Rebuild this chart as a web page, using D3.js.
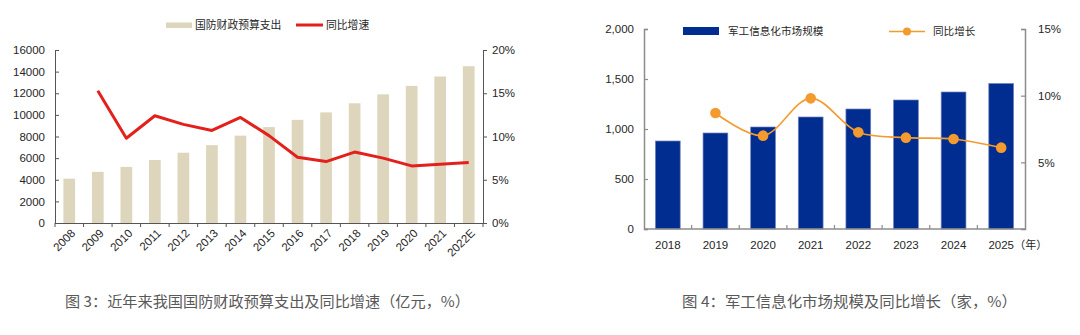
<!DOCTYPE html>
<html><head><meta charset="utf-8">
<script src="https://cdn.jsdelivr.net/npm/d3@7/dist/d3.min.js"></script>
<style>
html,body{margin:0;padding:0;background:#fff;}
svg{display:block;}
text{font-family:"Liberation Sans",Arial,sans-serif;}
.cjk{font-family:"Noto Sans CJK SC","Noto Sans",sans-serif;}
</style></head>
<body>
<svg id="c" width="1080" height="335"></svg>
<script>
// ---- Chart 1 data ----
const years1 = ["2008","2009","2010","2011","2012","2013","2014","2015","2016","2017","2018","2019","2020","2021","2022E"];
const budget1 = [4100,4730,5190,5830,6500,7200,8080,8870,9540,10230,11070,11900,12680,13550,14500];
const growth1 = [null,15.3,9.8,12.4,11.4,10.7,12.2,10.1,7.6,7.1,8.2,7.5,6.6,6.8,7.0];
const ticksL1 = [0,2000,4000,6000,8000,10000,12000,14000,16000];
const ticksR1 = [0,5,10,15,20];
const legend1 = ["国防财政预算支出","同比增速"];
const caption1 = "图 3：近年来我国国防财政预算支出及同比增速（亿元，%）";

// ---- Chart 2 data ----
const years2 = ["2018","2019","2020","2021","2022","2023","2024","2025"];
const market2 = [880,960,1020,1120,1200,1290,1370,1455];
const growth2 = [null,8.7,7.0,9.8,7.25,6.85,6.75,6.1];
const ticksL2 = [0,500,1000,1500,2000];
const ticksR2 = [5,10,15];
const legend2 = ["军工信息化市场规模","同比增长"];
const caption2 = "图 4：军工信息化市场规模及同比增长（家，%）";
const yearUnit2 = "（年）";

const svg = d3.select("#c");
svg.append("rect").attr("width",1080).attr("height",335).attr("fill","#fff");

// ================= Chart 1 =================
{
  const g = svg.append("g");
  const x = d3.scaleBand().domain(years1).range([55,483]).paddingInner(0.59).paddingOuter(0.295);
  const yL = d3.scaleLinear().domain([0,16000]).range([223,50]);
  const yR = d3.scaleLinear().domain([0,20]).range([223,50]);
  const axisCol = "#555";
  const txtCol = "#262626";

  g.selectAll("rect.bar").data(years1).join("rect")
    .attr("x", d=>x(d)).attr("width", x.bandwidth())
    .attr("y", (d,i)=>yL(budget1[i])).attr("height",(d,i)=>yL(0)-yL(budget1[i]))
    .attr("fill","#DED5BD");

  const la = g.append("g").attr("transform","translate(55,0)")
    .call(d3.axisLeft(yL).tickValues(ticksL1).tickSize(-4).tickPadding(10).tickFormat(d3.format("d")));
  la.select(".domain").attr("stroke",axisCol);
  la.selectAll(".tick line").attr("stroke",axisCol);
  la.selectAll("text").attr("fill",txtCol).attr("font-size",11.5).attr("font-family","Liberation Sans, Arial, sans-serif");

  const ra = g.append("g").attr("transform","translate(483,0)")
    .call(d3.axisRight(yR).tickValues(ticksR1).tickSize(4).tickPadding(5).tickFormat(d=>d+"%"));
  ra.select(".domain").attr("stroke",axisCol);
  ra.selectAll(".tick line").attr("stroke",axisCol);
  ra.selectAll("text").attr("fill",txtCol).attr("font-size",11.5).attr("font-family","Liberation Sans, Arial, sans-serif");

  g.append("line").attr("x1",55).attr("x2",483).attr("y1",223.5).attr("y2",223.5).attr("stroke",axisCol);
  const step = x.step();
  const bounds = years1.map(d=>x(d)+x.bandwidth()/2-step/2).concat([x(years1[years1.length-1])+x.bandwidth()/2+step/2]);
  g.selectAll("line.xt").data(bounds).join("line")
    .attr("x1",d=>d).attr("x2",d=>d).attr("y1",223).attr("y2",227).attr("stroke",axisCol);
  g.selectAll("text.xl").data(years1).join("text")
    .attr("transform",d=>`translate(${x(d)+x.bandwidth()/2+4},${231}) rotate(-45)`)
    .attr("text-anchor","end").attr("dy","0.35em")
    .attr("font-size",11.5).attr("fill",txtCol).text(d=>d);

  const line = d3.line().defined(d=>d[1]!=null).x(d=>x(d[0])+x.bandwidth()/2).y(d=>yR(d[1]));
  g.append("path").datum(years1.map((d,i)=>[d,growth1[i]]))
    .attr("d",line).attr("fill","none").attr("stroke","#E3211C").attr("stroke-width",3).attr("stroke-linejoin","round");

  g.append("rect").attr("x",166).attr("y",22.5).attr("width",26).attr("height",5.5).attr("fill","#DED5BD");
  g.append("text").attr("class","cjk").attr("x",195).attr("y",25).attr("dy","0.35em").attr("font-size",10.8).attr("fill",txtCol).text(legend1[0]);
  g.append("line").attr("x1",296).attr("x2",323).attr("y1",25).attr("y2",25).attr("stroke","#E3211C").attr("stroke-width",3);
  g.append("text").attr("class","cjk").attr("x",326).attr("y",25).attr("dy","0.35em").attr("font-size",10.8).attr("fill",txtCol).text(legend1[1]);

  svg.append("text").attr("class","cjk").attr("x",65).attr("y",302).attr("dy","0.35em")
    .attr("font-size",15).attr("fill","#595959").attr("textLength",405).attr("lengthAdjust","spacingAndGlyphs").text(caption1);
}

// ================= Chart 2 =================
{
  const g = svg.append("g");
  const x = d3.scaleBand().domain(years2).range([644,1025]).paddingInner(0.48).paddingOuter(0.24);
  const yL = d3.scaleLinear().domain([0,2000]).range([229,29]);
  const yR = d3.scaleLinear().domain([0,15]).range([229,29]);
  const axisCol = "#8c8c8c";
  const txtCol = "#262626";

  g.selectAll("rect.bar").data(years2).join("rect")
    .attr("x", d=>x(d)).attr("width", x.bandwidth())
    .attr("y", (d,i)=>yL(market2[i])).attr("height",(d,i)=>yL(0)-yL(market2[i]))
    .attr("fill","#002D8F").attr("stroke","#6f82bd").attr("stroke-width",0.7);

  const la = g.append("g").attr("transform","translate(644,0)")
    .call(d3.axisLeft(yL).tickValues(ticksL2).tickSize(-4).tickPadding(10).tickFormat(d3.format(",")));
  la.select(".domain").attr("stroke",axisCol).attr("stroke-width",1.5);
  la.selectAll(".tick line").attr("stroke",axisCol).attr("stroke-width",1.2);
  la.selectAll("text").attr("fill",txtCol).attr("font-size",11.5).attr("font-family","Liberation Sans, Arial, sans-serif");

  const ra = g.append("g").attr("transform","translate(1025,0)")
    .call(d3.axisRight(yR).tickValues(ticksR2).tickSize(-4).tickPadding(13).tickFormat(d=>d+"%"));
  ra.select(".domain").attr("stroke",axisCol).attr("stroke-width",1.5);
  ra.selectAll(".tick line").attr("stroke",axisCol).attr("stroke-width",1.2);
  ra.selectAll("text").attr("fill",txtCol).attr("font-size",11.5).attr("font-family","Liberation Sans, Arial, sans-serif");

  g.append("line").attr("x1",644).attr("x2",1025).attr("y1",229).attr("y2",229).attr("stroke",axisCol).attr("stroke-width",1.5);
  const step = x.step();
  const bounds = years2.slice(1).map(d=>x(d)+x.bandwidth()/2-step/2);
  g.selectAll("line.xt").data(bounds).join("line")
    .attr("x1",d=>d).attr("x2",d=>d).attr("y1",229).attr("y2",225).attr("stroke",axisCol).attr("stroke-width",1.2);
  g.selectAll("text.xl").data(years2).join("text")
    .attr("x",d=>x(d)+x.bandwidth()/2).attr("y",245).attr("dy","0.35em")
    .attr("text-anchor","middle").attr("font-size",11.5).attr("fill",txtCol).text(d=>d);
  const last = years2[years2.length-1];
  g.append("text").attr("class","cjk").attr("x",x(last)+x.bandwidth()/2+13).attr("y",245).attr("dy","0.35em")
    .attr("font-size",11).attr("fill",txtCol).text(yearUnit2);

  const pts = years2.map((d,i)=>[d,growth2[i]]).filter(d=>d[1]!=null);
  const line = d3.line().x(d=>x(d[0])+x.bandwidth()/2).y(d=>yR(d[1])).curve(d3.curveCatmullRom.alpha(0.5));
  const orange = "#F39B2F";
  g.append("path").datum(pts).attr("d",line).attr("fill","none").attr("stroke",orange).attr("stroke-width",1.6);
  g.selectAll("circle.pt").data(pts).join("circle")
    .attr("cx",d=>x(d[0])+x.bandwidth()/2).attr("cy",d=>yR(d[1])).attr("r",5.3).attr("fill",orange);

  g.append("rect").attr("x",683).attr("y",27).attr("width",36).attr("height",8).attr("fill","#002D8F");
  g.append("text").attr("class","cjk").attr("x",728).attr("y",31).attr("dy","0.35em").attr("font-size",10.6).attr("fill",txtCol).text(legend2[0]);
  g.append("line").attr("x1",889).attr("x2",925).attr("y1",31.5).attr("y2",31.5).attr("stroke",orange).attr("stroke-width",1.6);
  g.append("circle").attr("cx",907).attr("cy",31.5).attr("r",4).attr("fill",orange);
  g.append("text").attr("class","cjk").attr("x",933).attr("y",31).attr("dy","0.35em").attr("font-size",10.6).attr("fill",txtCol).text(legend2[1]);

  svg.append("text").attr("class","cjk").attr("x",682).attr("y",302).attr("dy","0.35em")
    .attr("font-size",15).attr("fill","#595959").attr("textLength",335).attr("lengthAdjust","spacingAndGlyphs").text(caption2);
}
</script>
</body></html>
